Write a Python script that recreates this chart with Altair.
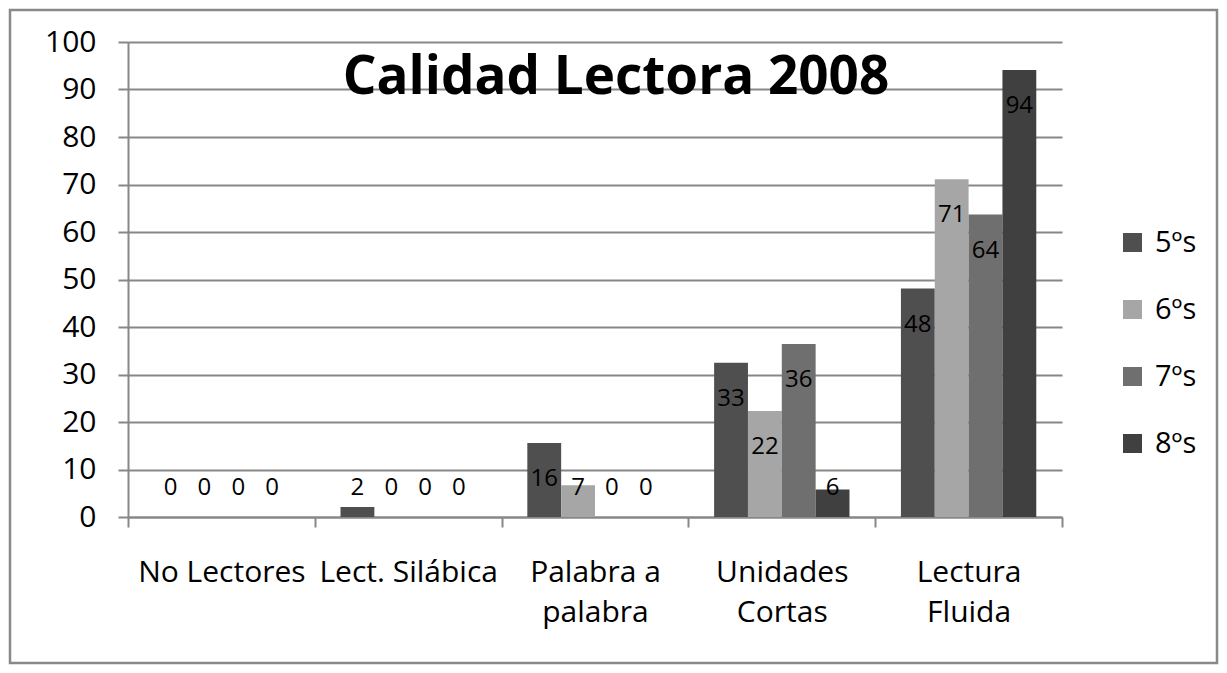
import altair as alt
import pandas as pd

categories = ["No Lectores", "Lect. Silábica", "Palabra a palabra", "Unidades Cortas", "Lectura Fluida"]
series = ["5ºs", "6ºs", "7ºs", "8ºs"]
v5 = [0, 2.1, 15.6, 32.5, 48.1]
v6 = [0, 0, 6.7, 22.3, 71.1]
v7 = [0, 0, 0, 36.4, 63.7]
v8 = [0, 0, 0, 5.8, 94.1]
colors = ["#4f4f4f", "#a6a6a6", "#6f6f6f", "#404040"]
y_ticks = [0, 10, 20, 30, 40, 50, 60, 70, 80, 90, 100]
title_text = "Calidad Lectora 2008"

rows = []
for s, vals in zip(series, [v5, v6, v7, v8]):
    for c, v in zip(categories, vals):
        rows.append({"cat": c, "serie": s, "v": v})
df = pd.DataFrame(rows)

FONT = "Open Sans"
GRAY = "#878787"

x_enc = alt.X(
    "cat:N",
    sort=categories,
    scale=alt.Scale(paddingInner=0, paddingOuter=0),
    axis=alt.Axis(
        title=None,
        labelAngle=0,
        labelFont=FONT,
        labelFontSize=30,
        labelColor="#000000",
        labelPadding=30,
        labelLineHeight=40,
        labelBaseline="top",
        domainColor=GRAY,
        domainWidth=2,
        tickColor=GRAY,
        tickWidth=2,
        tickSize=10,
        tickBand="extent",
        grid=False,
        labelExpr="datum.label == 'Palabra a palabra' ? ['Palabra a', 'palabra'] : datum.label == 'Unidades Cortas' ? ['Unidades', 'Cortas'] : datum.label == 'Lectura Fluida' ? ['Lectura', 'Fluida'] : datum.label",
    ),
)
xoff = alt.XOffset("serie:N", sort=series, scale=alt.Scale(paddingOuter=0.76, paddingInner=0))

bars = alt.Chart(df).mark_bar().encode(
    x=x_enc,
    xOffset=xoff,
    y=alt.Y(
        "v:Q",
        scale=alt.Scale(domain=[0, 100], nice=False),
        axis=alt.Axis(
            title=None,
            values=y_ticks,
            labelFont=FONT,
            labelFontSize=30,
            labelColor="#000000",
            labelPadding=22,
            domainColor=GRAY,
            domainWidth=2,
            tickColor=GRAY,
            tickWidth=2,
            tickSize=10,
            grid=True,
            gridColor=GRAY,
            gridWidth=2,
        ),
    ),
    color=alt.Color(
        "serie:N",
        sort=series,
        scale=alt.Scale(domain=series, range=colors),
        legend=alt.Legend(
            title=None,
            orient="none",
            legendX=990,
            legendY=186,
            padding=0,
            symbolType="square",
            symbolSize=361,
            symbolStrokeWidth=0,
            labelFont=FONT,
            labelFontSize=29,
            labelColor="#000000",
            labelOffset=8,
            rowPadding=37,
        ),
    ),
)

labels = alt.Chart(df).transform_calculate(
    ly="max(datum.v - 7.6, 6.1)", lbl="format(round(datum.v), 'd')"
).mark_text(font=FONT, fontSize=24, color="#000000", baseline="middle").encode(
    x=alt.X("cat:N", sort=categories),
    xOffset=alt.XOffset("serie:N", sort=series),
    y=alt.Y("ly:Q"),
    text="lbl:N",
)

frame_df = pd.DataFrame({"k": [0], "t": [title_text]})
frame = alt.Chart(frame_df).mark_rect(fill=None, stroke="#898989", strokeWidth=2.5).encode(
    x=alt.value(-118), x2=alt.value(934 + 155), y=alt.value(-32), y2=alt.value(475 + 146)
)

title = alt.Chart(frame_df).mark_text(
    font=FONT, fontSize=53, fontWeight="bold", color="#000000", align="center", baseline="alphabetic"
).encode(x=alt.value(488), y=alt.value(52), text="t:N")

chart = alt.layer(frame, bars, labels, title).properties(
    width=934,
    height=475,
    padding={"left": 120, "top": 34, "right": 157, "bottom": 148},
    autosize="none",
).configure_view(stroke=None)

chart.save("out.html", embed_options={"renderer": "svg", "actions": False})
